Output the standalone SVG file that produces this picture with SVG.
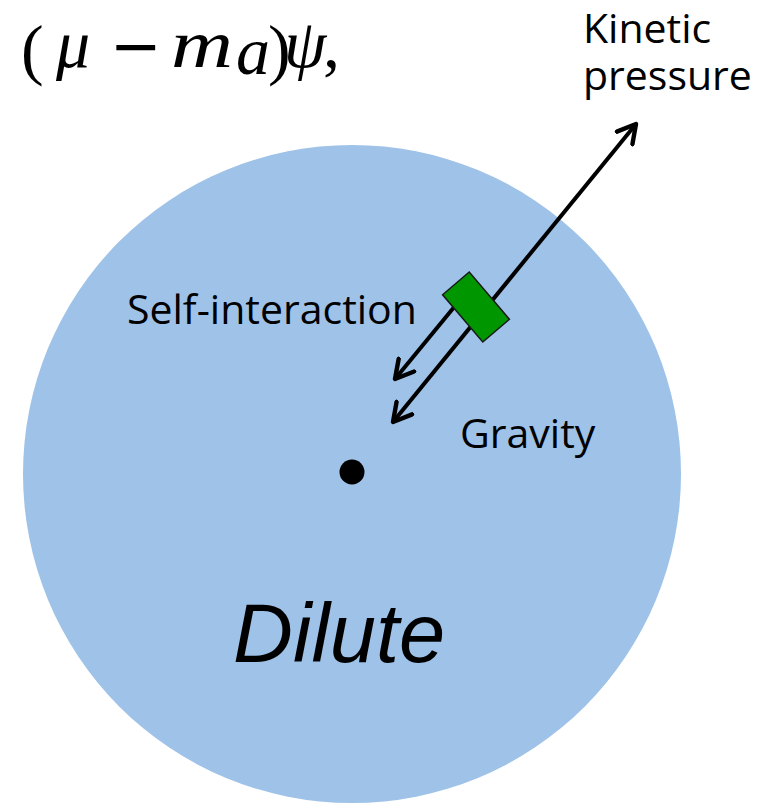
<svg xmlns="http://www.w3.org/2000/svg" width="766" height="812" viewBox="0 0 766 812">
<style>
.lbl{font-family:"Open Sans","Noto Sans",sans-serif;font-size:41px;fill:#000}
.math{font-family:"Liberation Serif","DejaVu Serif",serif;font-size:68px;fill:#000}
.it{font-style:italic}
.ln{stroke:#000;stroke-width:4;fill:none}
</style>
<defs>
<marker id="ah" viewBox="0 0 12 12" refX="10" refY="6" markerWidth="6" markerHeight="6" orient="auto-start-reverse" markerUnits="strokeWidth">
<path d="M1,1 L10,6 L1,11" fill="none" stroke="#000" stroke-width="2.2" stroke-linecap="round" stroke-linejoin="round"/>
</marker>
</defs>
<rect width="766" height="812" fill="#fff"/>
<g id="formula">
<text class="math" x="21" y="72">(</text>
<text class="math it" x="56" y="67">μ</text>
<text x="110" y="67" font-family="DejaVu Sans,sans-serif" font-size="62">−</text>
<text class="math it" x="171" y="67" textLength="62" lengthAdjust="spacingAndGlyphs">m</text>
<text class="math it" x="236" y="74" font-size="38">a</text>
<text class="math" x="268" y="72">)</text>
<text class="math it" x="284" y="67">ψ</text>
<text class="math" x="323" y="67">,</text>
</g>
<g id="cloud">
<circle cx="352" cy="474" r="329" fill="#9fc2e8"/>
</g>
<g id="center">
<circle cx="352" cy="472" r="12.5" fill="#000"/>
</g>
<g id="connectors">
<line class="ln" x1="393" y1="422" x2="636" y2="124" marker-start="url(#ah)" marker-end="url(#ah)"/>
<line class="ln" x1="455" y1="306" x2="395" y2="379" marker-end="url(#ah)"/>
</g>
<g id="particle">
<rect x="-31" y="-17.5" width="62" height="35" fill="#009600" stroke="#1a1a1a" stroke-width="1.5" transform="translate(476,307) rotate(49.6)"/>
</g>
<g id="labels">
<text class="lbl" x="127" y="324">Self-interaction</text>
<text class="lbl" x="460" y="448">Gravity</text>
<text class="lbl" x="583" y="43">Kinetic</text>
<text class="lbl" x="583" y="90">pressure</text>
<text x="233" y="662" font-family="Liberation Sans,Arial,sans-serif" font-style="italic" font-size="83" fill="#000">Dilute</text>
</g>
</svg>
